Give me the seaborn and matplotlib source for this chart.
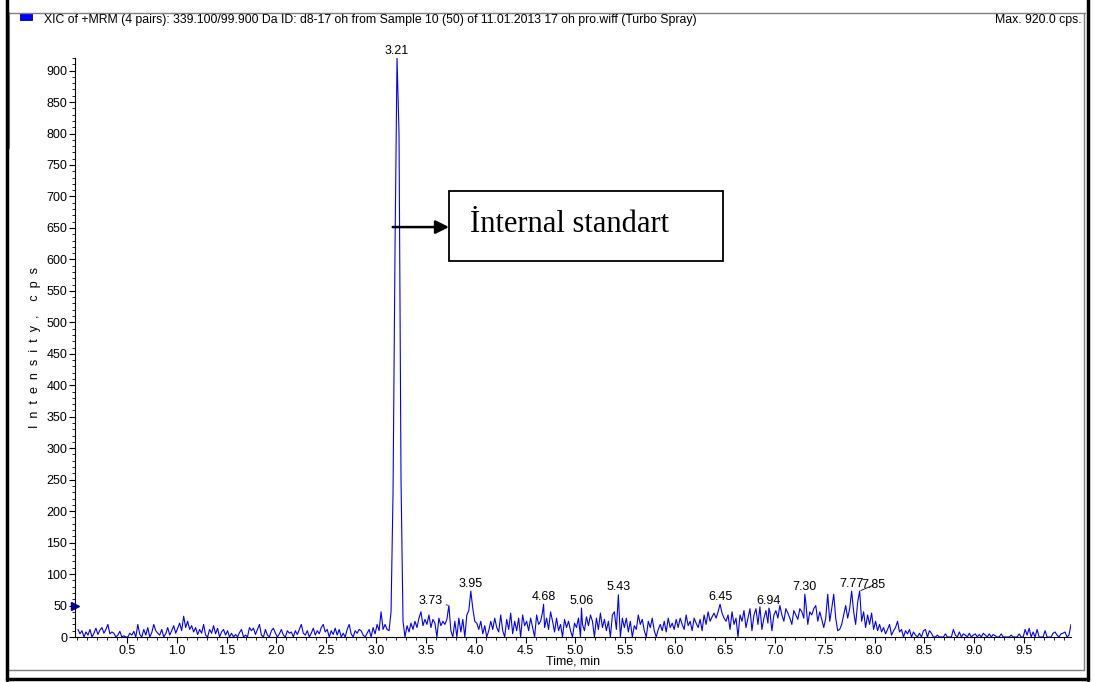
import numpy as np
import pandas as pd
import matplotlib
matplotlib.use("Agg")
import matplotlib.pyplot as plt
from matplotlib.lines import Line2D
from matplotlib.patches import Rectangle
from matplotlib.ticker import MultipleLocator
import seaborn as sns

# ---- chromatogram data (XIC, 339.100/99.900 Da) ----
# intensities on a 0.02 min grid starting at 0.01 min
scan_start = 0.01
scan_step = 0.02
intensity = [
    # 0.01 - 0.49
    12, 5, 10, 0, 8, 3, 12, 0, 6, 14, 4, 11, 15, 6, 12, 20, 5, 8, 6, 0, 3, 9, 0, 2, 0,
    # 0.51 - 0.99
    0, 6, 3, 9, 0, 20, 4, 0, 12, 3, 15, 0, 7, 20, 10, 6, 3, 12, 0, 5, 15, 3, 10, 18, 6,
    # 1.01 - 1.49
    14, 22, 10, 33, 15, 25, 12, 18, 8, 15, 4, 12, 6, 20, 3, 0, 12, 6, 18, 5, 14, 0, 8, 12, 3,
    # 1.51 - 1.99
    10, 0, 6, 0, 4, 0, 7, 12, 0, 3, 0, 15, 10, 14, 4, 12, 20, 3, 0, 12, 3, 0, 10, 14, 6,
    # 2.01 - 2.49
    0, 5, 12, 3, 0, 10, 6, 8, 0, 10, 4, 12, 20, 6, 3, 10, 0, 6, 14, 3, 10, 5, 15, 20, 8,
    # 2.51 - 2.99
    12, 0, 10, 4, 14, 3, 12, 0, 6, 0, 12, 20, 5, 0, 10, 6, 12, 10, 3, 0, 6, 12, 0, 15, 5,
    # 3.01 - 3.49
    20, 10, 40, 12, 20, 12, 10, 40, 230, 620, 920, 800, 250, 25, 0, 18, 8, 22, 12, 25, 15, 30, 40, 18, 28,
    # 3.51 - 3.99
    20, 35, 15, 28, 22, 0, 30, 18, 25, 20, 28, 50, 10, 0, 25, 0, 30, 8, 28, 0, 35, 42, 73, 45, 25,
    # 4.01 - 4.49
    22, 12, 25, 5, 18, 0, 10, 25, 12, 30, 15, 8, 35, 10, 0, 28, 12, 38, 5, 25, 10, 30, 0, 35, 18,
    # 4.51 - 4.99
    25, 10, 30, 15, 0, 35, 20, 25, 40, 15, 30, 12, 40, 25, 8, 30, 10, 20, 0, 28, 15, 25, 10, 0, 22,
    # 5.01 - 5.49
    15, 30, 0, 20, 10, 32, 18, 35, 25, 0, 30, 12, 38, 15, 28, 10, 25, 0, 35, 40, 12, 67, 0, 30, 15,
    # 5.51 - 5.99
    30, 8, 25, 0, 18, 12, 35, 20, 28, 10, 0, 25, 15, 30, 10, 0, 12, 20, 10, 25, 8, 30, 15, 22, 12,
    # 6.01 - 6.49
    28, 15, 30, 20, 12, 35, 18, 25, 10, 30, 22, 15, 28, 10, 35, 20, 40, 25, 32, 38, 30, 40, 52, 38, 30,
    # 6.51 - 6.99
    25, 35, 12, 40, 20, 30, 0, 35, 25, 42, 15, 30, 45, 10, 35, 45, 20, 48, 12, 30, 42, 22, 40, 10, 35,
    # 7.01 - 7.49
    42, 30, 50, 35, 25, 45, 38, 30, 20, 42, 35, 28, 45, 40, 30, 55, 20, 40, 35, 45, 50, 25, 40, 28, 15,
    # 7.51 - 7.99
    30, 68, 25, 45, 68, 30, 10, 12, 20, 35, 50, 30, 45, 73, 40, 20, 55, 73, 25, 40, 15, 35, 20, 38, 12,
    # 8.01 - 8.49
    25, 10, 20, 8, 15, 5, 12, 20, 3, 10, 15, 25, 8, 12, 0, 10, 5, 12, 0, 8, 3, 0, 6, 0, 10,
    # 8.51 - 8.99
    12, 0, 10, 6, 0, 0, 3, 0, 0, 0, 5, 0, 0, 0, 12, 3, 0, 8, 0, 5, 3, 0, 6, 0, 3,
    # 9.01 - 9.49
    5, 0, 4, 0, 6, 3, 0, 5, 0, 4, 2, 0, 0, 5, 0, 0, 0, 0, 3, 0, 0, 0, 5, 0, 0,
    # 9.51 - 9.97
    12, 3, 14, 0, 8, 0, 12, 0, 0, 0, 10, 0, 0, 0, 6, 8, 3, 0, 5, 6, 8, 0, 3, 20,
]

# labelled peak apexes (retention time, min / intensity, cps)
peak_times = [3.21, 3.73, 3.95, 4.68, 5.06, 5.43, 6.45, 6.94, 7.30, 7.77, 7.85]
peak_heights = [920, 50, 73, 52, 46, 67, 52, 46, 68, 73, 73]

x_ticks = [0.5, 1.0, 1.5, 2.0, 2.5, 3.0, 3.5, 4.0, 4.5, 5.0,
           5.5, 6.0, 6.5, 7.0, 7.5, 8.0, 8.5, 9.0, 9.5]
x_tick_labels = ["0.5", "1.0", "1.5", "2.0", "2.5", "3.0", "3.5", "4.0", "4.5", "5.0",
                 "5.5", "6.0", "6.5", "7.0", "7.5", "8.0", "8.5", "9.0", "9.5"]
y_ticks = list(range(0, 901, 50))

header = ("XIC of +MRM (4 pairs): 339.100/99.900 Da ID: d8-17 oh from Sample 10 (50) "
          "of 11.01.2013 17 oh pro.wiff (Turbo Spray)")
max_text = "Max. 920.0 cps."
x_title = "Time, min"
y_title = "I  n  t  e  n  s  i  t  y  ,    c  p  s"
callout = "\u0130nternal standart"

# ---- merge grid scans with apex points ----
grid_times = [round(scan_start + scan_step * i, 2) for i in range(len(intensity))]
trace = dict(zip(grid_times, intensity))
trace.update({round(t, 2): h for t, h in zip(peak_times, peak_heights)})
df = pd.DataFrame(sorted(trace.items()), columns=["time", "intensity"])

# ---- figure ----
sns.set_style("ticks")
plt.rcParams["font.family"] = ["Liberation Sans", "DejaVu Sans"]

W, H = 1094, 682
fig = plt.figure(figsize=(W / 100, H / 100), dpi=100)


def fx(px):
    return px / W


def fy(py):
    return 1 - py / H


ax = fig.add_axes([fx(75), fy(637), fx(1071) - fx(75), fy(58) - fy(637)])
ax.set_facecolor("white")

sns.lineplot(data=df, x="time", y="intensity", ax=ax, color="#0000ff",
             linewidth=0.8, estimator=None, sort=True)

ax.set_xlim(-0.02, 9.97)
ax.set_ylim(0, 920)
ax.set_xticks(x_ticks, x_tick_labels)
ax.set_yticks(y_ticks, [str(v) for v in y_ticks])
ax.xaxis.set_minor_locator(MultipleLocator(0.1))
ax.yaxis.set_minor_locator(MultipleLocator(10))
ax.tick_params(which="major", length=4, width=0.8, color="black",
               labelsize=9, pad=1.5, labelcolor="black")
ax.tick_params(which="minor", length=2, width=0.6, color="black")
sns.despine(ax=ax)
for s in ("left", "bottom"):
    ax.spines[s].set_color("black")
    ax.spines[s].set_linewidth(0.8)

ax.set_xlabel(x_title, fontsize=9, labelpad=-1, color="black")
ax.set_ylabel(y_title, fontsize=9, labelpad=4, color="black")

# apex labels
label_offsets = {3.73: (-13, -1), 7.85: (10, 0)}
for t, h in zip(peak_times, peak_heights):
    dx, dy = label_offsets.get(t, (0, 1))
    kw = {}
    if t in label_offsets:
        kw["arrowprops"] = dict(arrowstyle="-", lw=0.6, color="black",
                                shrinkA=0, shrinkB=1)
    ax.annotate(f"{t:.2f}", xy=(t, h), xytext=(dx, dy), textcoords="offset points",
                ha="center", va="bottom", fontsize=9, color="black", **kw)

# base-line marker on the intensity axis
ax.plot([0], [50], transform=ax.get_yaxis_transform(), marker=">", markersize=6,
        color="#0000aa", clip_on=False, linestyle="none")

# callout box with arrow toward the main peak
ax.add_patch(Rectangle((0.3755, 0.649), 0.2751, 0.121, transform=ax.transAxes,
                       fill=True, facecolor="white", edgecolor="black", lw=1.3,
                       zorder=5))
ax.text(0.397, 0.6995, callout, transform=ax.transAxes, fontsize=22,
        family=["Liberation Serif", "DejaVu Serif"], ha="left", va="baseline",
        color="black", zorder=6)
ax.annotate("", xy=(0.3755, 0.708), xytext=(0.319, 0.708),
            xycoords="axes fraction", textcoords="axes fraction",
            arrowprops=dict(arrowstyle="-|>", lw=1.8, color="black",
                            mutation_scale=20, shrinkA=0, shrinkB=0))

# header
fig.add_artist(Rectangle((fx(20), fy(20)), fx(12), 7 / H, transform=fig.transFigure,
                         facecolor="#0000ff", edgecolor="#000080", lw=0.6))
fig.text(fx(44), fy(23), header, fontsize=8.8, ha="left", va="baseline", color="black")
fig.text(fx(1082), fy(23), max_text, fontsize=8.8, ha="right", va="baseline", color="black")

# panel frame
gray = "#7f7f7f"
frame = [
    ((7, 1085), (13, 13), gray, 1.0),
    ((7, 1084), (670, 670), gray, 1.0),
    ((1084, 1084), (13, 670), gray, 1.0),
    ((9, 9), (13, 148), gray, 1.5),
    ((7, 7), (0, 680), "black", 2.5),
    ((7, 1088), (679, 679), "black", 2.5),
    ((1088, 1088), (0, 680), "black", 2.5),
]
for xs, ys, c, lw in frame:
    fig.add_artist(Line2D([fx(xs[0]), fx(xs[1])], [fy(ys[0]), fy(ys[1])],
                          transform=fig.transFigure, color=c, lw=lw))

fig.savefig("out.png", dpi=100, facecolor="white")
